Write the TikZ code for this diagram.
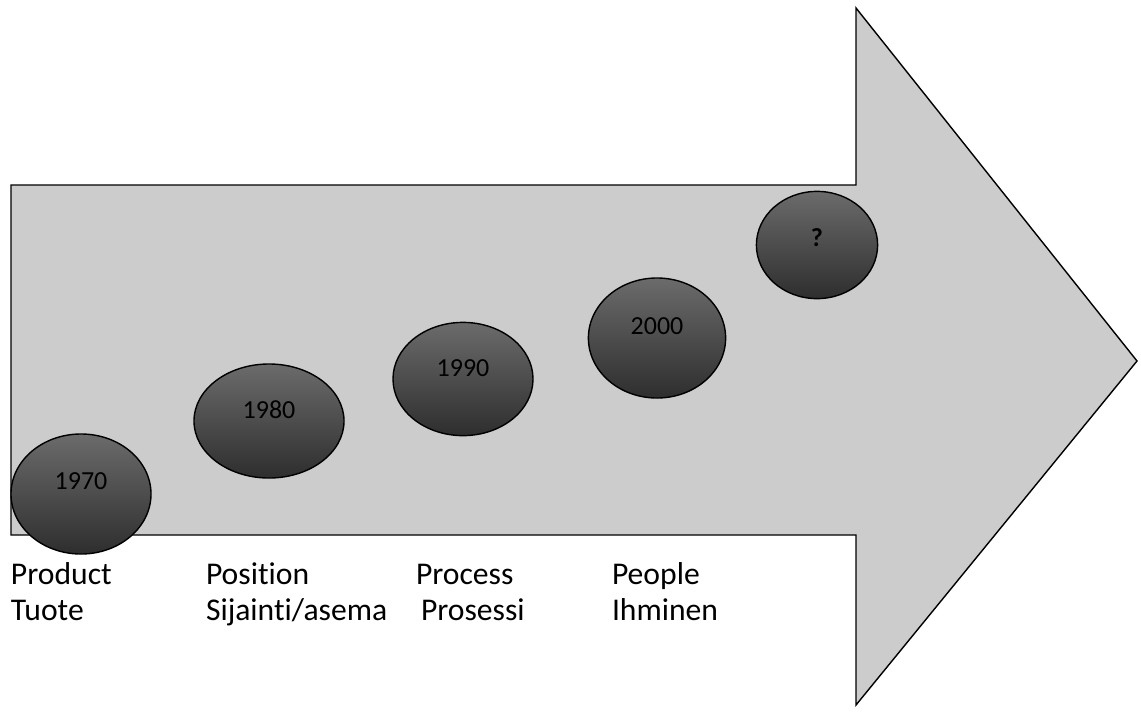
\documentclass[tikz,border=0pt]{standalone}
\usepackage{fontspec}
\setmainfont[Ligatures=NoCommon]{Carlito}
\usetikzlibrary{shapes.geometric, positioning, calc}

\begin{document}
\begin{tikzpicture}[
        x=0.025cm, y=-0.025cm,
        every node/.style={inner sep=0pt, outer sep=0pt},
        bubble/.style={ellipse, draw=black, line width=1pt, top color=black!58, bottom color=black!82},
        year/.style={font=\fontsize{18.5}{22}\selectfont},
        caption/.style={anchor=base west, font=\fontsize{22.5}{26}\selectfont}
    ]
        \useasboundingbox (0,0) rectangle (1141,711);

        % Big arrow
        \draw[fill=black!20, line width=1pt, line join=miter]
            (11,185) -- (856,185) -- (856,8) -- (1137,361) -- (856,705) -- (856,535) -- (11,535) -- cycle;

        % Bubbles
        \node[bubble, minimum width=3.5cm, minimum height=3cm] (e1) at (81,494) {};
        \node[bubble, minimum width=3.75cm, minimum height=2.85cm] (e2) at (269,421) {};
        \node[bubble, minimum width=3.5cm, minimum height=2.83cm] (e3) at (463,379) {};
        \node[bubble, minimum width=3.43cm, minimum height=3cm] (e4) at (657,338) {};
        \node[bubble, minimum width=3.03cm, minimum height=2.68cm] (e5) at (817,245) {};

        % Years
        \node[year] (y1) at ([yshift=0.32cm]e1.center) {1970};
        \node[year] (y2) at ([yshift=0.28cm]e2.center) {1980};
        \node[year] (y3) at ([yshift=0.28cm]e3.center) {1990};
        \node[year] (y4) at ([yshift=0.3cm]e4.center) {2000};
        \node[year] (y5) at ([yshift=0.18cm]e5.center) {\textbf{?}};

        % Captions below
        \node[caption] (c1) at (11,584) {Product};
        \node[caption] (c1b) at (11,620) {Tuote};
        \node[caption] (c2) at (206,584) {Position};
        \node[caption] (c2b) at (206,620) {Sijainti/asema};
        \node[caption] (c3) at (416,584) {Process};
        \node[caption] (c3b) at (421,620) {Prosessi};
        \node[caption] (c4) at (612,584) {People};
        \node[caption] (c4b) at (612,620) {Ihminen};
    \end{tikzpicture}
\end{document}
